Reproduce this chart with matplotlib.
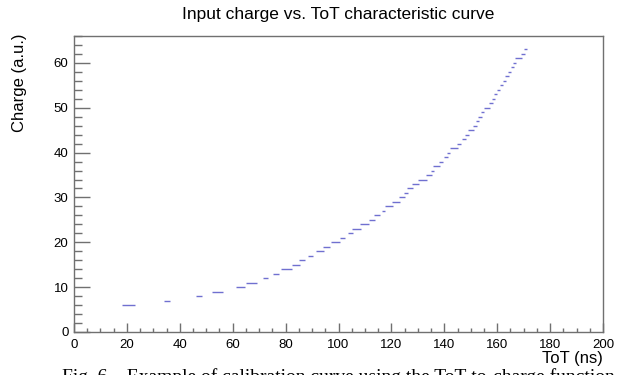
import matplotlib
matplotlib.use("Agg")
import matplotlib.pyplot as plt
from matplotlib.ticker import MultipleLocator

# Data: charge level and the ToT interval (ns) of each step
charge = [6, 7, 8, 9, 10, 11, 12, 13, 14, 15, 16, 17, 18, 19, 20, 21, 22, 23, 24, 25,
          26, 27, 28, 29, 30, 31, 32, 33, 34, 35, 36, 37, 38, 39, 40, 41, 42, 43, 44, 45,
          46, 47, 48, 49, 50, 51, 52, 53, 54, 55, 56, 57, 58, 59, 60, 61, 62, 63]
tot_start = [18.0, 34.0, 46.1, 52.3, 61.2, 65.1, 71.3, 75.4, 78.3, 82.4, 85.2, 88.5, 91.4, 94.3,
             97.2, 100.4, 103.5, 105.2, 108.3, 111.5, 113.4, 116.3, 117.7, 120.3, 122.9, 124.8,
             125.9, 127.8, 129.9, 133.0, 135.0, 135.9, 138.0, 139.8, 140.9, 142.2, 144.9, 146.8,
             147.9, 148.9, 150.8, 151.9, 152.9, 153.9, 154.9, 156.9, 158.0, 158.9, 159.9, 161.1,
             162.1, 163.1, 164.1, 165.1, 166.1, 166.9, 169.0, 170.1]
tot_end = [23.2, 36.3, 48.4, 56.5, 64.5, 69.3, 73.5, 77.4, 82.4, 85.4, 87.4, 90.5, 94.5, 96.8,
           100.6, 102.6, 105.6, 108.5, 111.6, 113.7, 115.7, 117.6, 120.7, 123.3, 125.3, 126.3,
           128.3, 130.3, 133.3, 135.4, 136.1, 138.4, 139.4, 141.3, 142.2, 145.3, 146.3, 148.2,
           149.3, 151.2, 152.2, 153.2, 154.2, 155.1, 157.3, 158.3, 159.2, 160.0, 161.2, 162.3,
           163.3, 164.3, 165.3, 166.2, 167.2, 169.4, 170.4, 171.3]

x_ticks = [0, 20, 40, 60, 80, 100, 120, 140, 160, 180, 200]
y_ticks = [0, 10, 20, 30, 40, 50, 60]

plt.rcParams['font.family'] = ['Liberation Sans', 'DejaVu Sans']

W, H = 619, 375
fig = plt.figure(figsize=(W / 100, H / 100), dpi=100)
ax = fig.add_axes([74 / W, 1 - 332 / H, (603 - 74) / W, (332 - 36) / H])

ax.hlines(charge, tot_start, tot_end, colors='#7070d0', linewidth=1.0)

ax.set_xlim(0, 200)
ax.set_ylim(0, 66)
ax.set_xticks(x_ticks)
ax.set_yticks(y_ticks)
ax.xaxis.set_minor_locator(MultipleLocator(5))
ax.yaxis.set_minor_locator(MultipleLocator(2))

frame_col = '#707070'
for s in ax.spines.values():
    s.set_color(frame_col)
    s.set_linewidth(1.0)

ax.tick_params(axis='x', which='major', direction='in', length=6.5, width=1.0,
               color=frame_col, labelsize=9.5, pad=5)
ax.tick_params(axis='x', which='minor', direction='in', length=3.2, width=1.0, color=frame_col)
ax.tick_params(axis='y', which='major', direction='in', length=11.5, width=1.0,
               color=frame_col, labelsize=9.5, pad=4)
ax.tick_params(axis='y', which='minor', direction='in', length=5.8, width=1.0, color=frame_col)
ax.tick_params(top=False, right=False, which='both')

fig.text(338.5 / W, 1 - 14 / H, 'Input charge vs. ToT characteristic curve',
         ha='center', va='center', fontsize=12.5)
fig.text(603 / W, 1 - 358 / H, 'ToT (ns)', ha='right', va='center', fontsize=12)
fig.text(20 / W, 1 - 33 / H, 'Charge (a.u.)', rotation=90, ha='center', va='top', fontsize=12)

fig.text(62 / W, 1 - 368 / H,
         'Fig. 6.   Example of calibration curve using the ToT-to-charge function',
         ha='left', va='top', fontsize=14, family=['Liberation Serif', 'DejaVu Serif'])

fig.savefig('out.png', dpi=100)
